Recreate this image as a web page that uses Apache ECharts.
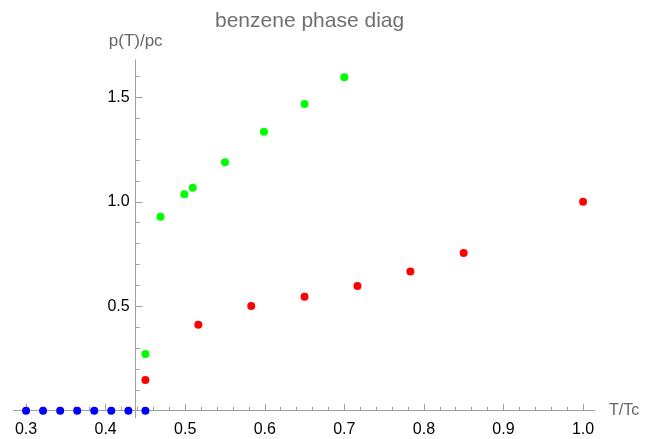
<!DOCTYPE html>
<html>
<head>
<meta charset="utf-8">
<script src="https://cdn.jsdelivr.net/npm/echarts@6/dist/echarts.min.js"></script>
<style>
html,body{margin:0;padding:0;background:#fff;}
#c{width:650px;height:439px;}
</style>
</head>
<body>
<div id="c"></div>
<script>
// ---- data ----
const title = 'benzene phase diag';
const xName = 'T/Tc';
const yName = 'p(T)/pc';

const blueT = [0.3, 0.3214, 0.3429, 0.3643, 0.3857, 0.4071, 0.4286, 0.45];
const blueP = [0, 0, 0, 0, 0, 0, 0, 0];

const greenT = [0.45, 0.469, 0.499, 0.5095, 0.55, 0.599, 0.65, 0.70];
const greenP = [0.271, 0.929, 1.036, 1.067, 1.19, 1.336, 1.468, 1.596];

const redT = [0.45, 0.5165, 0.583, 0.65, 0.7165, 0.783, 0.85, 1.0];
const redP = [0.147, 0.412, 0.501, 0.546, 0.597, 0.667, 0.755, 1.0];

const xMajorTicks = [0.3, 0.4, 0.5, 0.6, 0.7, 0.8, 0.9, 1.0];
const xMinorTicks = [0.32, 0.34, 0.36, 0.38, 0.42, 0.44, 0.46, 0.48, 0.52, 0.54, 0.56, 0.58,
  0.62, 0.64, 0.66, 0.68, 0.72, 0.74, 0.76, 0.78, 0.82, 0.84, 0.86, 0.88, 0.92, 0.94, 0.96, 0.98];
const yMajorTicks = [0.5, 1.0, 1.5];
const yMinorTicks = [0.1, 0.2, 0.3, 0.4, 0.6, 0.7, 0.8, 0.9, 1.1, 1.2, 1.3, 1.4, 1.6];

// ---- chart ----
const xMin = 0.284, xMax = 1.015, yMin = -0.035, yMax = 1.68;
const gridLeft = 13.3, gridRight = 55, gridTop = 59.8, gridBottom = 21;
const yAxisPixel = 135.7;
const axisColor = '#a0a0a0';
const font = 'Liberation Sans, Arial, sans-serif';

const chart = echarts.init(document.getElementById('c'), null, {renderer: 'canvas'});

function toPairs(xs, ys) { return xs.map((x, i) => [x, ys[i]]); }

const baseX = {
  type: 'value', min: xMin, max: xMax, gridIndex: 0, position: 'bottom',
  splitLine: {show: false},
  axisLine: {onZero: true}
};
const baseY = {
  type: 'value', min: yMin, max: yMax, gridIndex: 0, position: 'left',
  offset: -(yAxisPixel - gridLeft),
  splitLine: {show: false},
  axisLine: {onZero: false}
};

chart.setOption({
  animation: false,
  backgroundColor: '#ffffff',
  title: {
    text: title, left: 210, top: 6,
    textStyle: {fontFamily: font, fontSize: 21, fontWeight: 'normal', color: '#707070'}
  },
  grid: {left: gridLeft, right: gridRight, top: gridTop, bottom: gridBottom, containLabel: false},
  xAxis: [
    Object.assign({}, baseX, {
      name: xName, nameLocation: 'end', nameGap: 14,
      nameTextStyle: {fontFamily: font, fontSize: 16, color: '#666666', verticalAlign: 'middle'},
      axisLine: {onZero: true, lineStyle: {color: axisColor, width: 1}},
      axisTick: {show: true, inside: true, length: 7, lineStyle: {color: axisColor}, customValues: xMajorTicks},
      axisLabel: {show: true, margin: 4, fontFamily: font, fontSize: 16, color: '#000',
        customValues: xMajorTicks, formatter: v => v.toFixed(1)}
    }),
    Object.assign({}, baseX, {
      axisLine: {show: false, onZero: true},
      axisTick: {show: true, inside: true, length: 4, lineStyle: {color: axisColor}, customValues: xMinorTicks},
      axisLabel: {show: false}
    })
  ],
  yAxis: [
    Object.assign({}, baseY, {
      name: yName, nameLocation: 'end', nameGap: 10,
      nameTextStyle: {fontFamily: font, fontSize: 17, color: '#666666', align: 'center'},
      axisLine: {show: true, onZero: false, lineStyle: {color: axisColor, width: 1}},
      axisTick: {show: true, inside: true, length: 7, lineStyle: {color: axisColor}, customValues: yMajorTicks},
      axisLabel: {show: true, margin: 6, fontFamily: font, fontSize: 16, color: '#000',
        customValues: yMajorTicks, formatter: v => v.toFixed(1)}
    }),
    Object.assign({}, baseY, {
      axisLine: {show: false, onZero: false},
      axisTick: {show: true, inside: true, length: 4, lineStyle: {color: axisColor}, customValues: yMinorTicks},
      axisLabel: {show: false}
    })
  ],
  series: [
    {type: 'scatter', xAxisIndex: 0, yAxisIndex: 0, data: toPairs(greenT, greenP),
      symbolSize: 8, itemStyle: {color: '#00ff00', opacity: 1}},
    {type: 'scatter', xAxisIndex: 0, yAxisIndex: 0, data: toPairs(redT, redP),
      symbolSize: 8, itemStyle: {color: '#ff0000', opacity: 1}},
    {type: 'scatter', xAxisIndex: 0, yAxisIndex: 0, data: toPairs(blueT, blueP),
      symbolSize: 8, itemStyle: {color: '#0000ff', opacity: 1}}
  ]
});
</script>
</body>
</html>
